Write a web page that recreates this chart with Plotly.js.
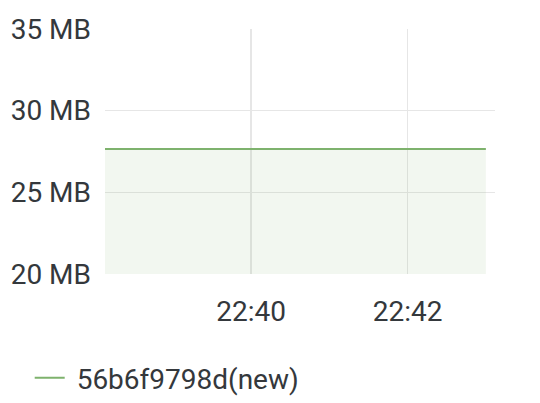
<!DOCTYPE html>
<html>
<head>
<meta charset="utf-8">
<script src="https://cdn.plot.ly/plotly-3.0.1.min.js"></script>
<style>
  html, body { margin: 0; padding: 0; background: #ffffff; }
  #chart { width: 540px; height: 403px; }
</style>
</head>
<body>
<div id="chart"></div>
<script>
// ---- data ----
const times = [
  "2024-01-01 22:38:00", "2024-01-01 22:38:30", "2024-01-01 22:39:00", "2024-01-01 22:39:30",
  "2024-01-01 22:40:00", "2024-01-01 22:40:30", "2024-01-01 22:41:00", "2024-01-01 22:41:30",
  "2024-01-01 22:42:00", "2024-01-01 22:42:30", "2024-01-01 22:43:00"
];
const memoryMB = [27.65, 27.65, 27.65, 27.65, 27.65, 27.65, 27.65, 27.65, 27.65, 27.65, 27.65];
const seriesName = "56b6f9798d(new)";
const yTickVals = [20, 25, 30, 35];
const yTickText = ["20 MB", "25 MB", "30 MB", "35 MB"];
const xTickVals = ["2024-01-01 22:40:00", "2024-01-01 22:42:00"];
const xTickText = ["22:40", "22:42"];
const xRange = ["2024-01-01 22:38:08", "2024-01-01 22:43:07"];
const yRange = [20, 35];

// ---- styles ----
const green = "#7eb26d";
const textColor = "#34383c";
const gridColor = "#e6e6e6";
const font = { family: "Roboto, 'Noto Sans', sans-serif", size: 28, color: textColor };

const traces = [
  {
    x: times, y: memoryMB, type: "scatter", mode: "lines",
    fill: "tozeroy", fillcolor: "rgba(126,178,109,0.10)",
    line: { color: green, width: 0 },
    showlegend: false, hoverinfo: "skip"
  },
  {
    x: times, y: memoryMB, type: "scatter", mode: "lines",
    name: "\u00a0" + seriesName,
    line: { color: green, width: 2 }
  }
];

const layout = {
  width: 540, height: 403,
  margin: { l: 105, r: 45, t: 29, b: 129 },
  paper_bgcolor: "#ffffff", plot_bgcolor: "#ffffff",
  font: font,
  showlegend: true,
  legend: {
    orientation: "h", xref: "container", yref: "container",
    x: 0.055, xanchor: "left", y: 0.062, yanchor: "middle",
    font: font, itemwidth: 30, bgcolor: "rgba(0,0,0,0)", borderwidth: 0
  },
  xaxis: {
    type: "date", range: xRange,
    tickvals: xTickVals, ticktext: xTickText,
    showgrid: true, gridcolor: gridColor, gridwidth: 1.5,
    zeroline: false, showline: false, ticks: "",
    ticklabelstandoff: 18, tickfont: font
  },
  yaxis: {
    range: yRange,
    tickvals: yTickVals, ticktext: yTickText,
    showgrid: true, gridcolor: gridColor, gridwidth: 1.5,
    zeroline: false, showline: false, ticks: "",
    ticklabelstandoff: 13, tickfont: font
  }
};

Plotly.newPlot("chart", traces, layout, { displayModeBar: false, staticPlot: true });
</script>
</body>
</html>
